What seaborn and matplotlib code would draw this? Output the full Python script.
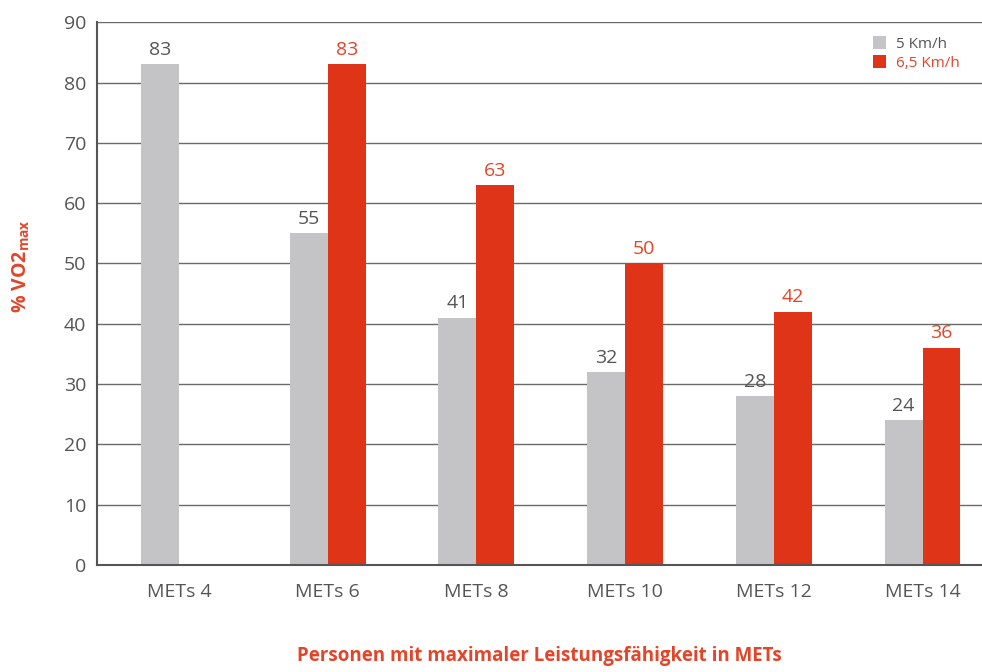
import pandas as pd
import matplotlib
matplotlib.use("Agg")
import matplotlib.pyplot as plt
import seaborn as sns

# chart data
categories = ['METs 4', 'METs 6', 'METs 8', 'METs 10', 'METs 12', 'METs 14']
speed_5 = [83, 55, 41, 32, 28, 24]
speed_65 = [None, 83, 63, 50, 42, 36]
series_names = ['5 Km/h', '6,5 Km/h']

grey = '#c4c4c6'
red = '#e03418'
text_grey = '#555555'
text_red = '#e2452a'

df = pd.DataFrame({
    'cat': categories * 2,
    'val': speed_5 + speed_65,
    'speed': [series_names[0]] * len(categories) + [series_names[1]] * len(categories),
}).dropna()

sns.set_style('white')
plt.rcParams['font.family'] = ['Open Sans', 'DejaVu Sans']

fig = plt.figure(figsize=(9.82, 6.72), dpi=100)
ax = fig.add_axes([0.099, 0.159, 0.901, 0.808])

sns.barplot(data=df, x='cat', y='val', hue='speed', order=categories,
            hue_order=series_names, palette=[grey, red], width=0.51,
            gap=0, saturation=1, errorbar=None, linewidth=0, ax=ax)

# value labels
for cont, col in zip(ax.containers, [text_grey, text_red]):
    ax.bar_label(cont, fmt='%d', padding=4, color=col, fontsize=14)

ax.set_ylim(0, 90)
ax.set_yticks(range(0, 91, 10))
ax.set_xlim(-0.55, 5.40)
ax.yaxis.grid(True, color='#6a6a6a', linewidth=1)
ax.set_axisbelow(True)
for s in ['top', 'right']:
    ax.spines[s].set_visible(False)
for s in ['left', 'bottom']:
    ax.spines[s].set_color('#555555')
    ax.spines[s].set_linewidth(1.5)
ax.tick_params(axis='both', length=0, labelsize=14, labelcolor=text_grey)
ax.tick_params(axis='x', pad=13)
ax.tick_params(axis='y', pad=8)

ax.set_ylabel('% VO2$\\mathregular{_{max}}$', color=text_red, fontsize=14,
              fontweight='bold')
ax.yaxis.set_label_coords(-0.074, 0.55)
ax.set_xlabel('Personen mit maximaler Leistungsfähigkeit in METs', color=text_red,
              fontsize=13.5, fontweight='bold', labelpad=32)

leg = ax.legend(loc='upper right', bbox_to_anchor=(0.99, 1.0), frameon=True,
                framealpha=1, edgecolor='white', fontsize=11,
                handlelength=0.9, handleheight=0.9, handletextpad=0.6,
                labelspacing=0.25, borderpad=0.4)
for t, col in zip(leg.get_texts(), [text_grey, text_red]):
    t.set_color(col)

fig.savefig('out.png', dpi=100)
